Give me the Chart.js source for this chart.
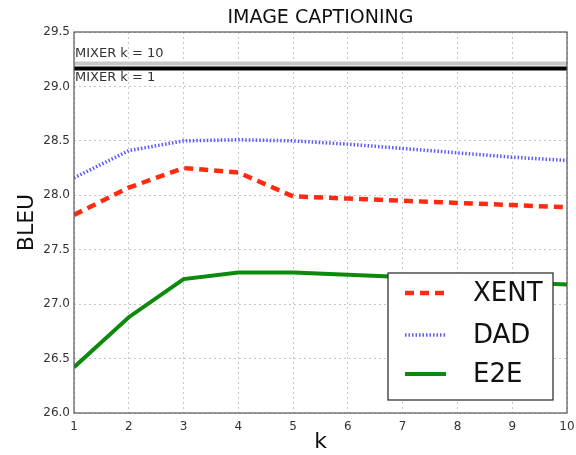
<!DOCTYPE html>
<html><head><meta charset="utf-8">
<script src="https://cdn.jsdelivr.net/npm/chart.js@4/dist/chart.umd.min.js"></script>
<style>html,body{margin:0;padding:0;background:#fff}#w{width:576px;height:455px}</style>
</head><body><div id="w"><canvas id="c" width="576" height="455"></canvas></div>
<script>
const kValues = [1,2,3,4,5,6,7,8,9,10];
const xent = [27.82,28.07,28.25,28.21,27.99,27.97,27.95,27.93,27.91,27.89];
const dad  = [28.16,28.41,28.50,28.51,28.50,28.47,28.43,28.39,28.35,28.32];
const e2e  = [26.42,26.88,27.23,27.29,27.29,27.27,27.25,27.22,27.20,27.18];
const mixerK10 = 29.21;
const mixerK1 = 29.165;
const yTicks = [26.0,26.5,27.0,27.5,28.0,28.5,29.0,29.5];

const FONT = "'DejaVu Sans', sans-serif";

const mixerLabels = {
  id:'mixerLabels',
  afterDatasetsDraw(chart){
    const {ctx, scales:{x,y}} = chart;
    ctx.save();
    ctx.font = "13px " + FONT;
    ctx.fillStyle = "#333";
    ctx.textAlign = "left";
    ctx.textBaseline = "bottom";
    ctx.fillText("MIXER k = 10", x.getPixelForValue(1)+1, y.getPixelForValue(mixerK10)-3);
    ctx.textBaseline = "top";
    ctx.fillText("MIXER k = 1", x.getPixelForValue(1)+1, y.getPixelForValue(mixerK1)+3);
    ctx.restore();
  }
};
const frame = {
  id:'frame',
  afterDatasetsDraw(chart){
    const {ctx, chartArea:a} = chart;
    ctx.save();
    ctx.strokeStyle = "#555";
    ctx.lineWidth = 1.2;
    ctx.strokeRect(a.left, a.top, a.right-a.left, a.bottom-a.top);
    ctx.restore();
  }
};
const boxLegend = {
  id:'boxLegend',
  afterDraw(chart){
    const {ctx} = chart;
    const L=388, T=273, R=553, B=400;
    ctx.save();
    ctx.fillStyle="#fff";
    ctx.fillRect(L,T,R-L,B-T);
    ctx.strokeStyle="#222"; ctx.lineWidth=1.2;
    ctx.strokeRect(L,T,R-L,B-T);
    const items = chart.data.datasets.filter(d=>d.showInLegend);
    const ys=[293,335,374];
    items.forEach((d,i)=>{
      ctx.beginPath();
      ctx.strokeStyle=d.borderColor;
      ctx.lineWidth=d.borderWidth;
      ctx.setLineDash(d.borderDash||[]);
      ctx.moveTo(405,ys[i]); ctx.lineTo(446,ys[i]); ctx.stroke();
      ctx.setLineDash([]);
      ctx.fillStyle="#111";
      ctx.font="26px " + FONT;
      ctx.textAlign="left"; ctx.textBaseline="middle";
      ctx.fillText(d.label,473,ys[i]+1);
    });
    ctx.restore();
  }
};

new Chart(document.getElementById('c'), {
  type:'line',
  data:{
    labels:kValues,
    datasets:[
      {label:'MIXER k = 10', data:kValues.map(()=>mixerK10), borderColor:'#c8c8c8', borderWidth:4, pointRadius:0, showInLegend:false},
      {label:'MIXER k = 1', data:kValues.map(()=>mixerK1), borderColor:'#000', borderWidth:4, pointRadius:0, showInLegend:false},
      {label:'XENT', data:xent, borderColor:'#ff2a10', borderWidth:4.5, borderDash:[9,6], pointRadius:0, showInLegend:true},
      {label:'DAD', data:dad, borderColor:'#5a5aff', borderWidth:3.5, borderDash:[1.5,2], pointRadius:0, showInLegend:true},
      {label:'E2E', data:e2e, borderColor:'#0b8a0b', borderWidth:4, pointRadius:0, showInLegend:true}
    ]
  },
  options:{
    responsive:false, animation:false,
    layout:{padding:{top:32, right:9, left:14, bottom:0}},
    plugins:{
      legend:{display:false}, tooltip:{enabled:false},
      title:{display:false}
    },
    scales:{
      x:{type:'linear', min:1, max:10,
        afterFit(s){s.height=42; s.paddingLeft=0; s.paddingRight=0;},
        ticks:{stepSize:1, color:'#333', font:{family:FONT,size:12}, padding:7, maxRotation:0},
        grid:{color:'#b8b8b8', lineWidth:0.8, tickLength:0},
        border:{display:false, dash:[2,3]},
        title:{display:true, text:'k', color:'#111', font:{family:FONT,size:22}, padding:{top:-4,bottom:0}}
      },
      y:{min:26, max:29.5,
        afterFit(s){s.width=60; s.paddingTop=0; s.paddingBottom=0;},
        afterBuildTicks(s){s.ticks=yTicks.map(v=>({value:v}));},
        ticks:{color:'#333', font:{family:FONT,size:12}, padding:4, callback:v=>v.toFixed(1)},
        grid:{color:'#b8b8b8', lineWidth:0.8, tickLength:0},
        border:{display:false, dash:[2,3]},
        title:{display:true, text:'BLEU', color:'#111', font:{family:FONT,size:22}, padding:{top:0,bottom:4}}
      }
    }
  },
  plugins:[mixerLabels, frame, boxLegend, {
    id:'topTitle',
    afterDraw(chart){
      const ctx=chart.ctx; ctx.save();
      ctx.font="19px "+FONT; ctx.fillStyle="#111"; ctx.textAlign="center"; ctx.textBaseline="middle";
      ctx.fillText("IMAGE CAPTIONING", (chart.chartArea.left+chart.chartArea.right)/2, 18);
      ctx.restore();
    }
  }]
});
</script></body></html>
